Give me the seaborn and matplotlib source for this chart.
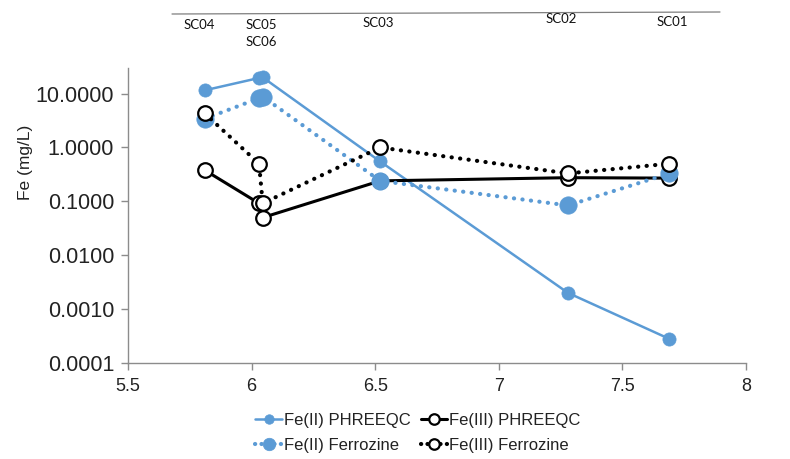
import matplotlib
matplotlib.use("Agg")
import matplotlib.pyplot as plt
from matplotlib.lines import Line2D
from matplotlib.ticker import FixedLocator, FuncFormatter, NullLocator
import seaborn as sns

# Sampling points (pH) and iron speciation results
samples = ["SC04", "SC05", "SC06", "SC03", "SC02", "SC01"]
ph = [5.81, 6.03, 6.045, 6.52, 7.28, 7.69]
fe2_phreeqc = [11.5, 19.5, 20.0, 0.55, 0.0020, 0.00028]
fe3_phreeqc = [0.38, 0.092, 0.050, 0.24, 0.275, 0.27]
fe2_ferrozine = [3.4, 8.2, 8.8, 0.24, 0.084, 0.33]
fe3_ferrozine = [4.3, 0.50, 0.092, 1.0, 0.33, 0.50]

y_ticks = [0.0001, 0.001, 0.01, 0.1, 1, 10]
x_ticks = [5.5, 6, 6.5, 7, 7.5, 8]

sns.set_theme(style="white")
plt.rcParams["font.family"] = ["Liberation Sans", "DejaVu Sans"]

W, H = 790, 459
fig = plt.figure(figsize=(W / 100, H / 100), dpi=100)
ax = fig.add_axes([128 / W, 1 - 363 / H, (746 - 128) / W, (363 - 68) / H])

blue = "#5B9BD5"
dotted = (0, (0.05, 2.0))

styles = {
    "Fe(II) PHREEQC": dict(color=blue, linewidth=1.8, linestyle="-", marker="o",
                           markersize=9.5, markerfacecolor=blue,
                           markeredgecolor=blue, markeredgewidth=0.5),
    "Fe(III) PHREEQC": dict(color="black", linewidth=2.2, linestyle="-", marker="o",
                            markersize=10.5, markerfacecolor="white",
                            markeredgecolor="black", markeredgewidth=1.6),
    "Fe(II) Ferrozine": dict(color=blue, linewidth=3.0, linestyle=dotted,
                             dash_capstyle="round", marker="o", markersize=12.5,
                             markerfacecolor=blue, markeredgecolor=blue,
                             markeredgewidth=0.5),
    "Fe(III) Ferrozine": dict(color="black", linewidth=3.0, linestyle=dotted,
                              dash_capstyle="round", marker="o", markersize=10.5,
                              markerfacecolor="white", markeredgecolor="black",
                              markeredgewidth=1.6),
}
values = {
    "Fe(II) PHREEQC": fe2_phreeqc,
    "Fe(III) PHREEQC": fe3_phreeqc,
    "Fe(II) Ferrozine": fe2_ferrozine,
    "Fe(III) Ferrozine": fe3_ferrozine,
}

for z, (name, vals) in enumerate(values.items()):
    sns.lineplot(x=ph, y=vals, ax=ax, sort=False, legend=False, zorder=3 + z,
                 **styles[name])

if ax.get_legend() is not None:
    ax.get_legend().remove()

ax.set_yscale("log")
ax.set_ylim(1e-4, 10 ** 1.475)
ax.set_xlim(5.5, 8)
ax.yaxis.set_major_locator(FixedLocator(y_ticks))
ax.yaxis.set_minor_locator(NullLocator())
ax.yaxis.set_major_formatter(FuncFormatter(lambda v, _: f"{v:.4f}"))
ax.xaxis.set_major_locator(FixedLocator(x_ticks))
ax.xaxis.set_major_formatter(FuncFormatter(lambda v, _: f"{v:g}"))

for side in ("top", "right"):
    ax.spines[side].set_visible(False)
for side in ("left", "bottom"):
    ax.spines[side].set_color("#8c8c8c")
    ax.spines[side].set_linewidth(1.0)
ax.tick_params(axis="both", direction="out", length=5, width=1, color="#8c8c8c",
               labelcolor="#222222", left=True, bottom=True)
ax.tick_params(axis="y", labelsize=15.5, pad=5)
ax.tick_params(axis="x", labelsize=13, pad=6)
ax.grid(False)

ax.set_xlabel("")
ax.set_ylabel("Fe (mg/L)", fontsize=12.5, color="#222222")
ax.yaxis.set_label_coords(-0.153, 0.68)

# Legend in two rows below the plot
handles = []
for name in ["Fe(II) PHREEQC", "Fe(II) Ferrozine", "Fe(III) PHREEQC", "Fe(III) Ferrozine"]:
    st = dict(styles[name])
    st["markersize"] = st["markersize"] * 0.72
    if st.get("linestyle") == dotted:
        st["linestyle"] = (0, (0.05, 1.5))
    handles.append(Line2D([], [], **st))
fig.legend(handles, ["Fe(II) PHREEQC", "Fe(II) Ferrozine", "Fe(III) PHREEQC", "Fe(III) Ferrozine"],
           loc="center", bbox_to_anchor=(418 / W, 1 - 433 / H), ncol=2, frameon=False,
           fontsize=12, handlelength=1.6, handletextpad=0.12, columnspacing=0.6,
           labelspacing=0.62, labelcolor="#222222")

# Sample identifiers along the top
fig.add_artist(Line2D([172 / W, 720 / W], [1 - 14 / H, 1 - 12 / H], color="#7f7f7f", lw=0.9))
label_pos = {"SC04": (199, 25), "SC05": (261, 25), "SC06": (261, 42),
             "SC03": (378, 23), "SC02": (561, 19), "SC01": (672, 22)}
for s in samples:
    px, py = label_pos[s]
    fig.text(px / W, 1 - py / H, s, ha="center", va="center", fontsize=9.5,
             family=["Lato", "DejaVu Sans"], color="#111111")

fig.savefig("out.png", dpi=100)
